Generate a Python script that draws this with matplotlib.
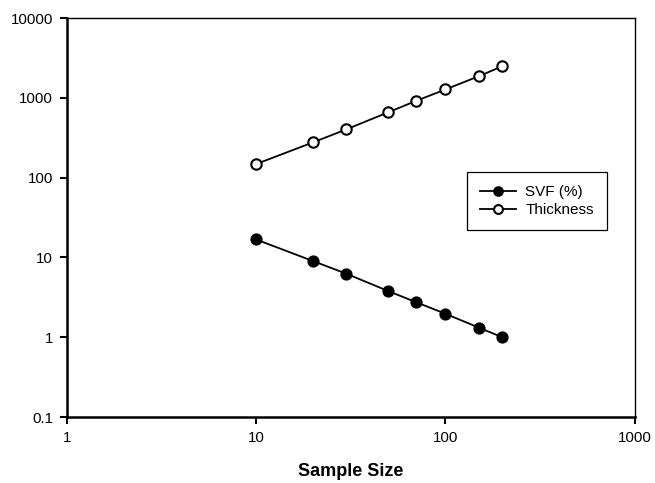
import matplotlib
matplotlib.use('Agg')
import matplotlib.pyplot as plt
from matplotlib.ticker import FixedLocator, FixedFormatter, NullLocator

plt.rcParams['font.family'] = ['Liberation Sans', 'DejaVu Sans']

# sample sizes and the two measured series
sample_size = [10, 20, 30, 50, 70, 100, 150, 200]
svf = [16.8, 9.0, 6.25, 3.78, 2.75, 1.97, 1.32, 1.0]
thickness = [148, 277, 403, 661, 916, 1274, 1866, 2490]

x_ticks = [1, 10, 100, 1000]
x_labels = ['1', '10', '100', '1000']
y_ticks = [0.1, 1, 10, 100, 1000, 10000]
y_labels = ['0.1', '1', '10', '100', '1000', '10000']

fig = plt.figure(figsize=(6.55, 4.83), dpi=100)
ax = fig.add_axes([0.102, 0.1366, 0.867, 0.826])

ax.plot(sample_size, svf, color='black', lw=1.3, marker='o', ms=7.5,
        mfc='black', mec='black', mew=1.3, label='SVF (%)')
ax.plot(sample_size, thickness, color='black', lw=1.3, marker='o', ms=7.5,
        mfc='white', mec='black', mew=1.5, label='Thickness')

ax.set_xscale('log')
ax.set_yscale('log')
ax.set_xlim(1, 1000)
ax.set_ylim(0.1, 10000)

ax.xaxis.set_major_locator(FixedLocator(x_ticks))
ax.xaxis.set_major_formatter(FixedFormatter(x_labels))
ax.yaxis.set_major_locator(FixedLocator(y_ticks))
ax.yaxis.set_major_formatter(FixedFormatter(y_labels))
ax.xaxis.set_minor_locator(NullLocator())
ax.yaxis.set_minor_locator(NullLocator())

ax.tick_params(direction='out', length=5, width=1.5, labelsize=10.8, pad=5)
ax.spines['left'].set_linewidth(1.8)
ax.spines['bottom'].set_linewidth(1.8)
ax.spines['top'].set_linewidth(1.0)
ax.spines['right'].set_linewidth(1.0)

ax.set_xlabel('Sample Size', fontsize=13, fontweight='bold', labelpad=13)

leg = ax.legend(loc='upper left', bbox_to_anchor=(0.704, 0.614), borderaxespad=0,
                fancybox=False, framealpha=1, edgecolor='black',
                fontsize=11, handlelength=2.4, borderpad=0.85, labelspacing=0.25,
                markerscale=0.85, handletextpad=0.6)
leg.get_frame().set_linewidth(0.9)

fig.savefig('out.png', dpi=100)
